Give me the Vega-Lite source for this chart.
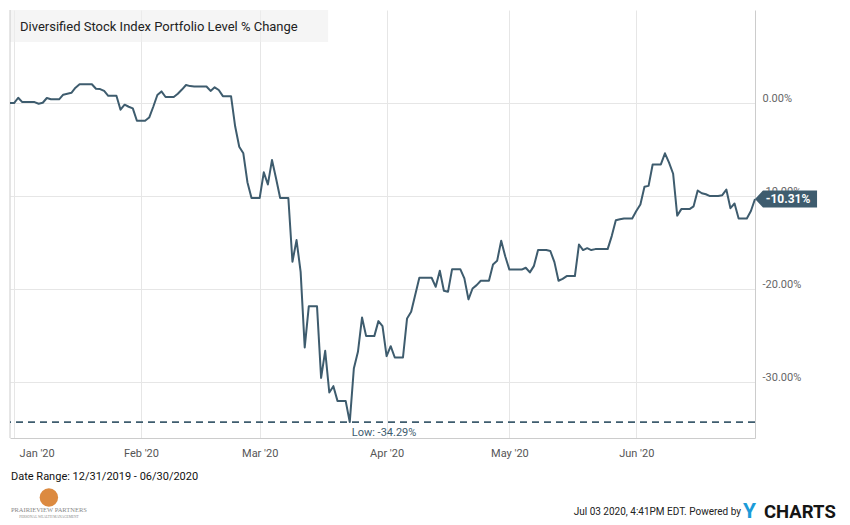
{
  "$schema": "https://vega.github.io/schema/vega-lite/v6.json",
  "width": 745,
  "height": 428,
  "autosize": "none",
  "padding": {"left": 10, "top": 10, "right": 95, "bottom": 87},
  "background": "white",
  "config": {"view": {"stroke": null}, "font": "Roboto", "text": {"font": "Roboto"}},
  "datasets": {
    "series": [
      {"d": "2019-12-31", "v": 0}, {"d": "2020-01-01", "v": 0}, {"d": "2020-01-02", "v": 0.57}, {"d": "2020-01-03", "v": 0.1},
      {"d": "2020-01-05", "v": 0.1}, {"d": "2020-01-06", "v": 0.1}, {"d": "2020-01-07", "v": -0.07}, {"d": "2020-01-08", "v": 0.03},
      {"d": "2020-01-09", "v": 0.54}, {"d": "2020-01-10", "v": 0.4}, {"d": "2020-01-12", "v": 0.4}, {"d": "2020-01-13", "v": 0.9},
      {"d": "2020-01-14", "v": 1.0}, {"d": "2020-01-15", "v": 1.1}, {"d": "2020-01-16", "v": 1.65}, {"d": "2020-01-17", "v": 2.02},
      {"d": "2020-01-20", "v": 2.02}, {"d": "2020-01-21", "v": 1.54}, {"d": "2020-01-22", "v": 1.5}, {"d": "2020-01-23", "v": 1.3},
      {"d": "2020-01-24", "v": 0.78}, {"d": "2020-01-26", "v": 0.78}, {"d": "2020-01-27", "v": -0.72}, {"d": "2020-01-28", "v": -0.18},
      {"d": "2020-01-29", "v": -0.4}, {"d": "2020-01-30", "v": -0.57}, {"d": "2020-01-31", "v": -1.9}, {"d": "2020-02-02", "v": -1.9},
      {"d": "2020-02-03", "v": -1.56}, {"d": "2020-02-04", "v": -0.4}, {"d": "2020-02-05", "v": 0.86}, {"d": "2020-02-06", "v": 1.25},
      {"d": "2020-02-07", "v": 0.65}, {"d": "2020-02-09", "v": 0.65}, {"d": "2020-02-10", "v": 1.0}, {"d": "2020-02-11", "v": 1.45},
      {"d": "2020-02-12", "v": 1.94}, {"d": "2020-02-13", "v": 1.82}, {"d": "2020-02-14", "v": 1.78}, {"d": "2020-02-17", "v": 1.78},
      {"d": "2020-02-18", "v": 1.3}, {"d": "2020-02-19", "v": 1.69}, {"d": "2020-02-20", "v": 1.4}, {"d": "2020-02-21", "v": 0.74},
      {"d": "2020-02-23", "v": 0.74}, {"d": "2020-02-24", "v": -2.5}, {"d": "2020-02-25", "v": -4.7}, {"d": "2020-02-26", "v": -5.4},
      {"d": "2020-02-27", "v": -8.5}, {"d": "2020-02-28", "v": -10.2}, {"d": "2020-03-01", "v": -10.2}, {"d": "2020-03-02", "v": -7.45},
      {"d": "2020-03-03", "v": -8.75}, {"d": "2020-03-04", "v": -6.13}, {"d": "2020-03-05", "v": -8.1}, {"d": "2020-03-06", "v": -10.2},
      {"d": "2020-03-08", "v": -10.2}, {"d": "2020-03-09", "v": -17.06}, {"d": "2020-03-10", "v": -14.73}, {"d": "2020-03-11", "v": -18.14},
      {"d": "2020-03-12", "v": -26.27}, {"d": "2020-03-13", "v": -21.83}, {"d": "2020-03-15", "v": -21.83}, {"d": "2020-03-16", "v": -29.54},
      {"d": "2020-03-17", "v": -26.63}, {"d": "2020-03-18", "v": -31.11}, {"d": "2020-03-19", "v": -30.43}, {"d": "2020-03-20", "v": -32.01},
      {"d": "2020-03-22", "v": -32.01}, {"d": "2020-03-23", "v": -34.29}, {"d": "2020-03-24", "v": -28.53}, {"d": "2020-03-25", "v": -26.74},
      {"d": "2020-03-26", "v": -23.05}, {"d": "2020-03-27", "v": -25.05}, {"d": "2020-03-29", "v": -25.05}, {"d": "2020-03-30", "v": -23.44},
      {"d": "2020-03-31", "v": -23.98}, {"d": "2020-04-01", "v": -27.2}, {"d": "2020-04-02", "v": -26.13}, {"d": "2020-04-03", "v": -27.35},
      {"d": "2020-04-05", "v": -27.35}, {"d": "2020-04-06", "v": -23.15}, {"d": "2020-04-07", "v": -22.44}, {"d": "2020-04-08", "v": -20.6},
      {"d": "2020-04-09", "v": -18.78}, {"d": "2020-04-12", "v": -18.78}, {"d": "2020-04-13", "v": -19.75}, {"d": "2020-04-14", "v": -18.03},
      {"d": "2020-04-15", "v": -20.18}, {"d": "2020-04-16", "v": -20.29}, {"d": "2020-04-17", "v": -17.85}, {"d": "2020-04-19", "v": -17.85},
      {"d": "2020-04-20", "v": -18.85}, {"d": "2020-04-21", "v": -21.1}, {"d": "2020-04-22", "v": -19.93}, {"d": "2020-04-23", "v": -19.57},
      {"d": "2020-04-24", "v": -19.1}, {"d": "2020-04-26", "v": -19.1}, {"d": "2020-04-27", "v": -17.35}, {"d": "2020-04-28", "v": -16.96},
      {"d": "2020-04-29", "v": -14.8}, {"d": "2020-04-30", "v": -16.5}, {"d": "2020-05-01", "v": -17.9}, {"d": "2020-05-03", "v": -17.9},
      {"d": "2020-05-04", "v": -17.9}, {"d": "2020-05-05", "v": -17.7}, {"d": "2020-05-06", "v": -18.2}, {"d": "2020-05-07", "v": -17.5},
      {"d": "2020-05-08", "v": -15.8}, {"d": "2020-05-10", "v": -15.8}, {"d": "2020-05-11", "v": -15.9}, {"d": "2020-05-12", "v": -17.1},
      {"d": "2020-05-13", "v": -19.1}, {"d": "2020-05-14", "v": -18.9}, {"d": "2020-05-15", "v": -18.6}, {"d": "2020-05-17", "v": -18.6},
      {"d": "2020-05-18", "v": -15.2}, {"d": "2020-05-19", "v": -15.8}, {"d": "2020-05-20", "v": -15.6}, {"d": "2020-05-21", "v": -15.8},
      {"d": "2020-05-22", "v": -15.7}, {"d": "2020-05-25", "v": -15.7}, {"d": "2020-05-26", "v": -14.3}, {"d": "2020-05-27", "v": -12.6},
      {"d": "2020-05-28", "v": -12.5}, {"d": "2020-05-29", "v": -12.4}, {"d": "2020-05-31", "v": -12.4}, {"d": "2020-06-01", "v": -11.6},
      {"d": "2020-06-02", "v": -10.9}, {"d": "2020-06-03", "v": -9.0}, {"d": "2020-06-04", "v": -8.9}, {"d": "2020-06-05", "v": -6.6},
      {"d": "2020-06-07", "v": -6.6}, {"d": "2020-06-08", "v": -5.4}, {"d": "2020-06-09", "v": -6.4}, {"d": "2020-06-10", "v": -7.6},
      {"d": "2020-06-11", "v": -12.1}, {"d": "2020-06-12", "v": -11.4}, {"d": "2020-06-14", "v": -11.4}, {"d": "2020-06-15", "v": -11.1},
      {"d": "2020-06-16", "v": -9.4}, {"d": "2020-06-17", "v": -9.7}, {"d": "2020-06-18", "v": -9.8}, {"d": "2020-06-19", "v": -10.0},
      {"d": "2020-06-21", "v": -10.0}, {"d": "2020-06-22", "v": -9.9}, {"d": "2020-06-23", "v": -9.3}, {"d": "2020-06-24", "v": -11.3},
      {"d": "2020-06-25", "v": -10.8}, {"d": "2020-06-26", "v": -12.4}, {"d": "2020-06-28", "v": -12.4}, {"d": "2020-06-29", "v": -11.6},
      {"d": "2020-06-30", "v": -10.31}
    ]
  },
  "data": {"name": "series"},
  "layer": [
    {
      "data": {"values": [{}]},
      "mark": {"type": "rect", "fill": "#efefef", "opacity": 0.6},
      "encoding": {
        "x": {"datum": {"year": 2019, "month": 12, "date": 31, "utc": true}, "type": "temporal"},
        "x2": {"datum": {"year": 2020, "month": 3, "date": 17, "hours": 17, "utc": true}},
        "y": {"datum": 10, "type": "quantitative"},
        "y2": {"datum": 6.56}
      }
    },
    {
      "data": {"values": [{}]},
      "mark": {"type": "rule", "color": "#cccccc", "strokeWidth": 1},
      "encoding": {"x": {"datum": {"year": 2019, "month": 12, "date": 31, "utc": true}, "type": "temporal"}}
    },
    {
      "mark": {"type": "line", "color": "#3e5c6e", "strokeWidth": 2, "strokeJoin": "round"},
      "encoding": {
        "x": {
          "field": "d", "type": "temporal",
          "scale": {"type": "utc", "domain": [{"year": 2019, "month": 12, "date": 31, "utc": true}, {"year": 2020, "month": 6, "date": 30, "utc": true}], "nice": false},
          "axis": {
            "title": null, "format": "%b '%y", "tickCount": {"interval": "month", "step": 1},
            "grid": true, "gridColor": "#e6e6e6", "ticks": false, "domainColor": "#cccccc",
            "labelColor": "#555555", "labelFontSize": 11, "labelFont": "Roboto", "labelPadding": 9,
            "labelFlush": 10, "labelFlushOffset": -5
          }
        },
        "y": {
          "field": "v", "type": "quantitative",
          "scale": {"domain": [-36, 10], "nice": false, "zero": false},
          "axis": {
            "title": null, "orient": "right", "values": [-30, -20, -10, 0],
            "labelExpr": "replace(format(datum.value, '.2f'), '\u2212', '-') + '%'",
            "grid": true, "gridColor": "#e6e6e6", "ticks": false, "domainColor": "#cccccc",
            "labelColor": "#666666", "labelFontSize": 11, "labelFont": "Roboto", "labelPadding": 7,
            "labelBaseline": "alphabetic", "labelOffset": -2
          }
        }
      }
    },
    {
      "transform": [
        {"joinaggregate": [{"op": "min", "field": "v", "as": "lo"}]},
        {"filter": "datum.v === datum.lo"}
      ],
      "mark": {"type": "rule", "color": "#3e5c6e", "strokeWidth": 1.6, "strokeDash": [7, 5]},
      "encoding": {"y": {"field": "v", "type": "quantitative"}}
    },
    {
      "transform": [
        {"joinaggregate": [{"op": "min", "field": "v", "as": "lo"}]},
        {"filter": "datum.v === datum.lo"},
        {"calculate": "'Low: ' + replace(format(datum.v, '.2f'), '\u2212', '-') + '%'", "as": "lbl"}
      ],
      "mark": {"type": "text", "align": "left", "baseline": "middle", "dx": 2, "dy": 11, "fontSize": 11, "color": "#3e5c6e"},
      "encoding": {
        "x": {"field": "d", "type": "temporal"},
        "y": {"field": "v", "type": "quantitative"},
        "text": {"field": "lbl"}
      }
    },
    {
      "transform": [
        {"joinaggregate": [{"op": "max", "field": "d", "as": "last"}]},
        {"filter": "+datum.d === +datum.last"}
      ],
      "mark": {"type": "point", "filled": true, "opacity": 1, "color": "#3e5c6e", "size": 289, "shape": "M0,0L0.94,-1L7.3,-1L7.3,1L0.94,1Z"},
      "encoding": {
        "x": {"field": "d", "type": "temporal"},
        "y": {"field": "v", "type": "quantitative"}
      }
    },
    {
      "transform": [
        {"joinaggregate": [{"op": "max", "field": "d", "as": "last"}]},
        {"filter": "+datum.d === +datum.last"},
        {"calculate": "replace(format(datum.v, '.2f'), '\u2212', '-') + '%'", "as": "lbl"}
      ],
      "mark": {"type": "text", "align": "center", "baseline": "middle", "dx": 33, "fontSize": 12, "fontWeight": "bold", "color": "white"},
      "encoding": {
        "x": {"field": "d", "type": "temporal"},
        "y": {"field": "v", "type": "quantitative"},
        "text": {"field": "lbl"}
      }
    },
    {
      "data": {"values": [{}]},
      "mark": {"type": "text", "text": "Diversified Stock Index Portfolio Level % Change", "align": "left", "baseline": "middle", "dx": 10, "fontSize": 13, "color": "#222222"},
      "encoding": {
        "x": {"datum": {"year": 2019, "month": 12, "date": 31, "utc": true}, "type": "temporal"},
        "y": {"datum": 8.17, "type": "quantitative"}
      }
    },
    {
      "data": {"values": [{}]},
      "mark": {"type": "text", "text": "Date Range: 12/31/2019 - 06/30/2020", "align": "left", "baseline": "middle", "dx": 1, "fontSize": 11, "color": "#111111"},
      "encoding": {
        "x": {"datum": {"year": 2019, "month": 12, "date": 31, "utc": true}, "type": "temporal"},
        "y": {"datum": -40.2, "type": "quantitative"}
      }
    },
    {
      "data": {"values": [{}]},
      "mark": {"type": "point", "filled": true, "opacity": 1, "shape": "circle", "color": "#dc8a40", "size": 340},
      "encoding": {
        "x": {"datum": {"year": 2020, "month": 1, "date": 9, "hours": 12, "utc": true}, "type": "temporal"},
        "y": {"datum": -42.4, "type": "quantitative"}
      }
    },
    {
      "data": {"values": [{}]},
      "mark": {"type": "text", "text": "PRAIRIEVIEW PARTNERS", "align": "center", "baseline": "middle", "fontSize": 6.5, "font": "Liberation Serif", "color": "#888888"},
      "encoding": {
        "x": {"datum": {"year": 2020, "month": 1, "date": 9, "hours": 12, "utc": true}, "type": "temporal"},
        "y": {"datum": -43.7, "type": "quantitative"}
      }
    },
    {
      "data": {"values": [{}]},
      "mark": {"type": "text", "text": "PERSONAL WEALTH MANAGEMENT", "align": "center", "baseline": "middle", "fontSize": 3.5, "font": "Liberation Serif", "color": "#888888"},
      "encoding": {
        "x": {"datum": {"year": 2020, "month": 1, "date": 9, "hours": 12, "utc": true}, "type": "temporal"},
        "y": {"datum": -44.5, "type": "quantitative"}
      }
    },
    {
      "data": {"values": [{}]},
      "mark": {"type": "text", "text": "Jul 03 2020, 4:41PM EDT.  Powered by", "align": "right", "baseline": "middle", "dx": -14, "fontSize": 10, "color": "#222222"},
      "encoding": {
        "x": {"datum": {"year": 2020, "month": 6, "date": 30, "utc": true}, "type": "temporal"},
        "y": {"datum": -43.9, "type": "quantitative"}
      }
    },
    {
      "data": {"values": [{}]},
      "mark": {"type": "text", "text": "Y", "align": "left", "baseline": "middle", "dx": -12, "fontSize": 21, "fontWeight": "bold", "color": "#1b9bd8"},
      "encoding": {
        "x": {"datum": {"year": 2020, "month": 6, "date": 30, "utc": true}, "type": "temporal"},
        "y": {"datum": -43.9, "type": "quantitative"}
      }
    },
    {
      "data": {"values": [{}]},
      "mark": {"type": "text", "text": "CHARTS", "align": "left", "baseline": "middle", "dx": 9, "fontSize": 18.5, "fontWeight": "bold", "color": "#151515"},
      "encoding": {
        "x": {"datum": {"year": 2020, "month": 6, "date": 30, "utc": true}, "type": "temporal"},
        "y": {"datum": -43.9, "type": "quantitative"}
      }
    }
  ]
}
